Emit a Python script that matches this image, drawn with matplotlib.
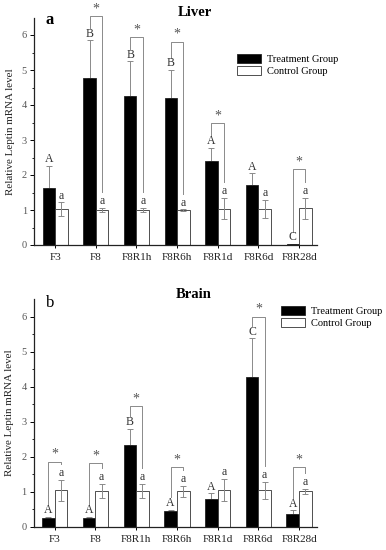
import matplotlib
matplotlib.use("Agg")
import matplotlib.pyplot as plt
from matplotlib.patches import Patch
import numpy as np

plt.rcParams['font.family'] = ['Liberation Serif', 'DejaVu Serif']

categories = ["F3", "F8", "F8R1h", "F8R6h", "F8R1d", "F8R6d", "F8R28d"]

# Liver (panel a)
liver_treat = [1.63, 4.77, 4.27, 4.20, 2.40, 1.72, 0.03]
liver_treat_err = [0.64, 1.08, 0.98, 0.80, 0.37, 0.33, 0.00]
liver_ctrl = [1.02, 1.00, 1.00, 1.00, 1.04, 1.03, 1.05]
liver_ctrl_err = [0.20, 0.06, 0.06, 0.02, 0.30, 0.25, 0.30]
liver_treat_letters = ["A", "B", "B", "B", "A", "A", "C"]
liver_ctrl_letters = ["a"] * 7
liver_sig = [None, 6.55, 5.95, 5.81, 3.49, None, 2.16]

# Brain (panel b)
brain_treat = [0.24, 0.24, 2.32, 0.44, 0.80, 4.28, 0.35]
brain_treat_err = [0.04, 0.04, 0.48, 0.05, 0.15, 1.10, 0.12]
brain_ctrl = [1.04, 1.02, 1.02, 1.01, 1.04, 1.04, 1.01]
brain_ctrl_err = [0.30, 0.20, 0.20, 0.15, 0.32, 0.25, 0.07]
brain_treat_letters = ["A", "A", "B", "A", "A", "C", "A"]
brain_ctrl_letters = ["a"] * 7
brain_sig = [1.86, 1.81, 3.45, 1.71, None, 6.00, 1.69]

fig = plt.figure(figsize=(3.86, 5.5), dpi=100)

W, H = 386, 550
def axes_rect(left_px, right_px, top_px, bottom_px):
    return [left_px / W, 1 - bottom_px / H, (right_px - left_px) / W, (bottom_px - top_px) / H]

def fx(px):
    return px / W

def fy(py):
    return 1 - py / H

ax1 = fig.add_axes(axes_rect(34, 317, 17.5, 245))
ax2 = fig.add_axes(axes_rect(33.5, 317, 299, 526.7))

txtc = "#333333"
errc = "#8a8a8a"
brc = "#8a8a8a"

def panel(ax, treat, terr, ctrl, cerr, tlet, clet, sig, title, title_xy,
          label, label_xy, label_bold, legend_loc):
    x = np.arange(len(categories))
    w = 0.31
    xt = x - w / 2
    xc = x + w / 2
    ax.bar(xt, treat, w, color="black", edgecolor="#222222", linewidth=0.6, zorder=2)
    ax.bar(xc, ctrl, w, color="white", edgecolor="#333333", linewidth=0.6, zorder=2)
    ax.errorbar(xt, treat, yerr=[np.zeros(len(treat)), terr], fmt="none",
                ecolor=errc, elinewidth=0.7, capsize=2, capthick=0.7, zorder=1)
    ax.errorbar(xc, ctrl, yerr=cerr, fmt="none",
                ecolor=errc, elinewidth=0.7, capsize=2, capthick=0.7, zorder=3)
    for i in range(len(categories)):
        ttop = treat[i] + terr[i]
        ctop = ctrl[i] + cerr[i]
        ax.text(xt[i], ttop + 0.02, tlet[i], ha="center", va="bottom", fontsize=8.5, color=txtc)
        ax.text(xc[i], ctop + 0.02, clet[i], ha="center", va="bottom", fontsize=8.5, color=txtc)
        if sig[i] is not None:
            s = sig[i]
            ax.plot([xt[i], xt[i], xc[i], xc[i]],
                    [ttop + 0.35, s, s, ctop + 0.45],
                    color=brc, lw=0.7, zorder=1, clip_on=False)
            ax.text(x[i], s + 0.02, "*", ha="center", va="bottom", fontsize=10,
                    color="#555555", clip_on=False)
    ax.set_xlim(-0.52, 6.44)
    ax.set_ylim(0, 6.5)
    ax.set_xticks(x)
    ax.set_xticklabels(categories, fontsize=8, color="#222222")
    ax.set_yticks(range(0, 7))
    ax.set_yticks(np.arange(0.5, 6.5, 1.0), minor=True)
    ax.tick_params(axis="y", labelsize=7.5, labelcolor="#555555", length=3, width=0.7,
                   direction="out", pad=2)
    ax.tick_params(axis="y", which="minor", length=1.8, width=0.6)
    ax.tick_params(axis="x", length=2, width=0.7, direction="out", pad=4)
    for sp in ["top", "right"]:
        ax.spines[sp].set_visible(False)
    for sp in ["left", "bottom"]:
        ax.spines[sp].set_linewidth(0.9)
        ax.spines[sp].set_color("#222222")
    ax.set_ylabel("Relative Leptin mRNA level", fontsize=7.9, color="#222222", labelpad=5)
    fig.text(fx(title_xy[0]), fy(title_xy[1]), title, fontsize=10.5, fontweight="bold",
             ha="center", va="center")
    fig.text(fx(label_xy[0]), fy(label_xy[1]), label, fontsize=12,
             fontweight="bold" if label_bold else "normal", va="baseline", ha="left")
    handles = [Patch(facecolor="black", edgecolor="#222222", linewidth=0.6, label="Treatment Group"),
               Patch(facecolor="white", edgecolor="#333333", linewidth=0.6, label="Control Group")]
    fig.legend(handles=handles, loc="upper left", bbox_to_anchor=legend_loc, frameon=False,
               fontsize=7.5, handlelength=2.3, handleheight=0.95, handletextpad=0.6,
               labelspacing=0.2, borderaxespad=0, borderpad=0)

panel(ax1, liver_treat, liver_treat_err, liver_ctrl, liver_ctrl_err,
      liver_treat_letters, liver_ctrl_letters, liver_sig, "Liver", (195, 12.5),
      "a", (45, 24), True, (fx(237), fy(54)))
panel(ax2, brain_treat, brain_treat_err, brain_ctrl, brain_ctrl_err,
      brain_treat_letters, brain_ctrl_letters, brain_sig, "Brain", (193.5, 294.5),
      "b", (45.5, 307), False, (fx(281), fy(306)))

fig.savefig("out.png", dpi=100)
